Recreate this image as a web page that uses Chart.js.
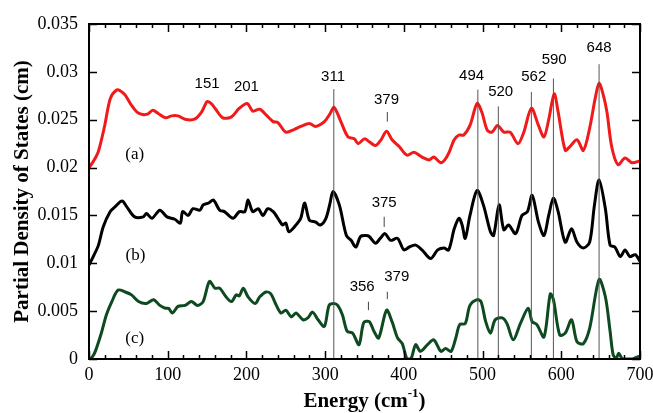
<!DOCTYPE html>
<html><head><meta charset="utf-8">
<script src="https://cdn.jsdelivr.net/npm/chart.js@4.4.1/dist/chart.umd.min.js"></script>
<style>html,body{margin:0;padding:0;background:#fff;}#wrap{width:653px;height:413px;}</style>
</head><body><div id="wrap"><canvas id="c" width="653" height="413"></canvas></div>
<script>
// ---- data ----
const energyA = [0,6,12,20,27,35,40,46,54,61,68,75,81,88,97,105,113,122,134,143,150,155,160,170,181,191,201,208,217,225,234,240,250,261,269,280,288,299,306,311,316,320,329,337,342,350,356,364,371,378,385,394,404,413,423,432,438,447,452,457,464,470,476,484,493,499,506,512,519,527,535,545,552,562,571,578,584,591,596,605,611,620,628,636,643,648,653,658,664,672,681,690,700];
const dosA = [0.0200,0.0207,0.0217,0.0244,0.0272,0.0281,0.0280,0.02756,0.0265,0.0258,0.02555,0.0256,0.0260,0.02565,0.0252,0.0254,0.0254,0.02505,0.02505,0.0258,0.0269,0.0267,0.0262,0.0252,0.0253,0.0262,0.0267,0.0259,0.0261,0.0255,0.0248,0.0247,0.0237,0.0240,0.0243,0.0246,0.0243,0.0248,0.0256,0.0263,0.0256,0.0248,0.0232,0.0230,0.0225,0.0230,0.0227,0.0223,0.0229,0.0238,0.0229,0.0222,0.0213,0.0216,0.0211,0.0208,0.0211,0.0205,0.0208,0.0215,0.0229,0.0234,0.0234,0.0244,0.0267,0.0258,0.0239,0.0237,0.0244,0.0237,0.0237,0.0225,0.0236,0.0262,0.0244,0.0232,0.0250,0.0277,0.0258,0.0218,0.0222,0.0229,0.0218,0.0241,0.0272,0.0288,0.0277,0.0258,0.0222,0.0203,0.0210,0.0205,0.0207];

const energyB = [0,6,12,18,27,33,42,48,58,69,73,80,90,99,109,116,119,126,132,141,145,152,158,166,172,183,191,198,202,208,215,221,227,234,240,246,250,254,263,269,274,280,288,294,301,306,310,318,327,333,339,345,352,356,364,370,376,383,392,400,407,415,423,434,443,451,457,464,470,474,478,484,493,501,510,514,521,527,533,542,550,557,563,571,578,584,590,596,605,613,620,628,636,642,648,656,662,668,675,681,687,694,700];
const dosB = [0.0098,0.0108,0.0119,0.0138,0.0154,0.0159,0.0165,0.0159,0.01485,0.01485,0.0152,0.0147,0.01555,0.01485,0.0146,0.0142,0.0154,0.0150,0.0157,0.01555,0.0161,0.0163,0.0166,0.01555,0.0154,0.0147,0.0154,0.0154,0.0166,0.0154,0.0157,0.0150,0.0157,0.0154,0.0147,0.0140,0.0142,0.0133,0.0140,0.0147,0.0163,0.0145,0.0143,0.0140,0.0147,0.0162,0.0175,0.0161,0.0129,0.0124,0.0117,0.0128,0.0129,0.0128,0.0121,0.0126,0.0131,0.0124,0.0126,0.0114,0.0117,0.0119,0.0114,0.0105,0.0114,0.0116,0.0114,0.0136,0.0147,0.0140,0.0126,0.0150,0.0176,0.0161,0.0133,0.0129,0.0161,0.0135,0.0140,0.0131,0.0150,0.0154,0.0171,0.0143,0.0129,0.0150,0.0168,0.0154,0.0122,0.0136,0.0122,0.0116,0.0122,0.0160,0.0187,0.0157,0.0119,0.0117,0.0107,0.0114,0.0107,0.0109,0.0102];

const energyC = [0,4,8,16,22,29,37,46,54,63,73,82,90,97,101,106,113,122,130,138,145,153,160,166,174,181,187,191,196,202,211,217,225,231,238,244,250,257,263,272,278,284,291,299,305,311,316,322,328,335,343,349,356,362,368,378,385,392,398,404,409,415,421,430,438,447,453,460,466,471,478,484,493,498,504,510,516,525,531,539,548,558,563,569,578,586,590,598,605,613,620,628,636,648,656,662,666,670,673,678,690,696,700];
const dosC = [0,0.0002,0.0008,0.0028,0.0046,0.0060,0.0072,0.0070,0.0067,0.0060,0.0058,0.0062,0.0056,0.0053,0.0053,0.0048,0.0055,0.0056,0.0060,0.0056,0.0060,0.0081,0.0074,0.0074,0.0065,0.0060,0.0067,0.0066,0.0074,0.0065,0.0058,0.0065,0.0070,0.0068,0.0056,0.0048,0.0051,0.0044,0.0048,0.0041,0.0043,0.0049,0.0041,0.0034,0.0056,0.0058,0.0056,0.0046,0.0029,0.0027,0.0015,0.0038,0.0039,0.0029,0.0022,0.0051,0.0039,0.0022,0.0016,0,0,0.0015,0.0008,0.0015,0.0020,0.0008,0.0011,0.0008,0.0022,0.0036,0.0037,0.0056,0.0062,0.0060,0.0039,0.0027,0.0041,0.0043,0.0037,0.0020,0.0037,0.0053,0.0039,0.0036,0.0023,0.0068,0.0062,0.0025,0.0027,0.0041,0.0018,0.0016,0.0032,0.0083,0.0065,0.0029,0.0004,0.0001,0.0006,0,0,0.0002,0.0003];

const xTickLabels = ['0','100','200','300','400','500','600','700'];
const yTickLabels = ['0','0.005','0.01','0.015','0.02','0.025','0.03','0.035'];

// peak guide lines (energy, top value)
const peakLineX = [311,494,520,562,590,648];
const peakLineTop = [0.0282,0.02815,0.0264,0.0279,0.0293,0.0308];
// short peak markers
const markX = [379,375,355,379];
const markLow = [0.0248,0.0138,0.0051,0.00626];
const markHigh = [0.0258,0.01486,0.00598,0.00703];
// peak labels
const peakLabels = ['151','201','311','379','375','356','379','494','520','562','590','648'];
const peakLabelX = [150,200,310,378,375,347,391,486,523,565,591,648];
const peakLabelY = [0.0287,0.0284,0.02944,0.02704,0.01628,0.00752,0.00856,0.02954,0.02787,0.02944,0.03121,0.03246];
// series tags
const seriesTags = ['(a)','(b)','(c)'];
const tagX = [58,59,58];
const tagY = [0.0214,0.01086,0.00219];

// ---- build ----
const pts = (xs, ys) => xs.map((x, i) => ({x: x, y: ys[i]}));
const datasets = [];
const curveStyle = {pointRadius: 0, borderWidth: 3, tension: 0.3, fill: false, borderJoinStyle: 'round'};
datasets.push(Object.assign({label: '(a)', data: pts(energyA, dosA), borderColor: '#f01a1a', order: 2}, curveStyle));
datasets.push(Object.assign({label: '(b)', data: pts(energyB, dosB), borderColor: '#000000', order: 2}, curveStyle));
datasets.push(Object.assign({label: '(c)', data: pts(energyC, dosC), borderColor: '#0d4a1f', order: 2}, curveStyle));
peakLineX.forEach((x, i) => datasets.push({data: [{x: x, y: 0}, {x: x, y: peakLineTop[i]}], borderColor: '#555', borderWidth: 1, pointRadius: 0, order: 1}));
markX.forEach((x, i) => datasets.push({data: [{x: x, y: markLow[i]}, {x: x, y: markHigh[i]}], borderColor: '#444', borderWidth: 1, pointRadius: 0, order: 1}));

const serif = "'Liberation Serif', 'Times New Roman', serif";
const sans = "'Liberation Sans', Arial, sans-serif";

const decor = {
  id: 'decor',
  afterDatasetsDraw(chart) {
    const {ctx, chartArea: a, scales: {x, y}} = chart;
    ctx.save();
    ctx.strokeStyle = '#000';
    ctx.lineWidth = 1.5;
    ctx.beginPath();
    for (let v = 0; v <= 700; v += 20) {
      const px = Math.round(x.getPixelForValue(v)) + 0.5;
      const len = (v % 100 === 0) ? 8 : 4;
      ctx.moveTo(px, a.bottom); ctx.lineTo(px, a.bottom - len);
      ctx.moveTo(px, a.top); ctx.lineTo(px, a.top + len);
    }
    for (let k = 0; k <= 7; k++) {
      const py = Math.round(y.getPixelForValue(k * 0.005)) + 0.5;
      ctx.moveTo(a.left, py); ctx.lineTo(a.left + 8, py);
      ctx.moveTo(a.right, py); ctx.lineTo(a.right - 8, py);
    }
    ctx.stroke();
    ctx.lineWidth = 2;
    ctx.strokeRect(a.left, a.top, a.right - a.left, a.bottom - a.top);

    ctx.fillStyle = '#000';
    ctx.textAlign = 'center';
    ctx.textBaseline = 'middle';
    ctx.font = '15px ' + sans;
    peakLabels.forEach((t, i) => ctx.fillText(t, x.getPixelForValue(peakLabelX[i]), y.getPixelForValue(peakLabelY[i])));
    ctx.font = '17px ' + serif;
    seriesTags.forEach((t, i) => ctx.fillText(t, x.getPixelForValue(tagX[i]), y.getPixelForValue(tagY[i])));

    // x axis title with superscript
    const cx = (a.left + a.right) / 2;
    const base = 407;
    const bold = 'bold 21px ' + serif, supF = 'bold 13px ' + serif;
    const p1 = 'Energy (cm', p2 = '-1', p3 = ')';
    ctx.font = bold; const w1 = ctx.measureText(p1).width, w3 = ctx.measureText(p3).width;
    ctx.font = supF; const w2 = ctx.measureText(p2).width;
    let sx = cx - (w1 + w2 + w3) / 2;
    ctx.textAlign = 'left'; ctx.textBaseline = 'alphabetic';
    ctx.font = bold; ctx.fillText(p1, sx, base); sx += w1;
    ctx.font = supF; ctx.fillText(p2, sx, base - 10); sx += w2;
    ctx.font = bold; ctx.fillText(p3, sx, base);
    ctx.restore();
  }
};

new Chart(document.getElementById('c'), {
  type: 'line',
  data: {datasets: datasets},
  plugins: [decor],
  options: {
    responsive: false,
    animation: false,
    layout: {padding: {top: 24, right: 13, left: 0, bottom: 0}},
    plugins: {legend: {display: false}, tooltip: {enabled: false}},
    scales: {
      x: {
        type: 'linear', min: 0, max: 700,
        grid: {display: false, drawTicks: false},
        border: {display: false},
        ticks: {stepSize: 100, padding: 5, color: '#000', font: {family: serif, size: 18},
          callback: (v) => xTickLabels[Math.round(v / 100)], maxRotation: 0},
        afterFit: (s) => { s.height = 54; s.paddingLeft = 0; s.paddingRight = 0; }
      },
      y: {
        type: 'linear', min: 0, max: 0.035,
        grid: {display: false, drawTicks: false},
        border: {display: false},
        ticks: {stepSize: 0.005, padding: 11, color: '#000', font: {family: serif, size: 18},
          callback: (v) => yTickLabels[Math.round(v / 0.005)]},
        title: {display: true, text: 'Partial Density of States (cm)', color: '#000',
          font: {family: serif, size: 21, weight: 'bold', lineHeight: 1}, padding: {top: 12, bottom: 0}},
        afterFit: (s) => { s.width = 89; s.paddingTop = 0; s.paddingBottom = 0; }
      }
    }
  }
});
</script>
</body></html>
